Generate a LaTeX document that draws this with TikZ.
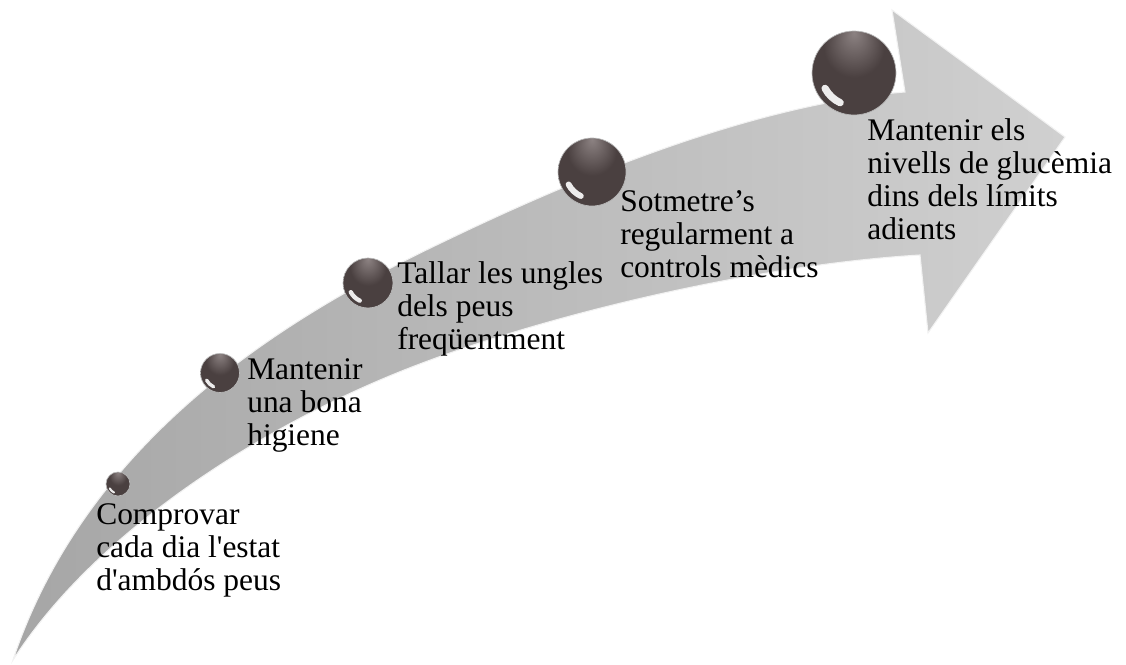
\documentclass[tikz,border=0pt]{standalone}
\usepackage{fontspec}
\setmainfont{Liberation Serif}
\usepackage{tikz}
\definecolor{arrowTail}{RGB}{166,166,166}
\definecolor{arrowHead}{RGB}{208,208,208}
\definecolor{beadBody}{RGB}{74,64,64}
\definecolor{beadSheen}{RGB}{140,130,130}
\definecolor{beadDeep}{RGB}{50,42,42}
\colorlet{beadRim}{gray!55}
\pgfdeclareradialshading{bead}{\pgfpoint{0bp}{24bp}}{%
  color(0bp)=(beadSheen); color(18bp)=(beadBody); color(42bp)=(beadBody); color(50bp)=(beadDeep)}
\tikzset{
  stepText/.style={anchor=base west, align=left, inner sep=0pt,
    font=\fontsize{23.6pt}{24.75pt}\selectfont},
  bead glint/.style={white, opacity=.9, line cap=round}
}

\begin{document}
\begin{tikzpicture}[x=0.75pt, y=0.75pt]
\useasboundingbox (0,0) rectangle (1126,664);
% the arrow
\shade[left color=arrowTail, right color=arrowHead, draw=white!90!gray, line width=0.8pt]
  (13,4) .. controls (90,234) and (300,354) .. (447,424)
  .. controls (547,472) and (740,559) .. (905,572)
  -- (892,654) -- (1065,527) -- (928,331) -- (920,409)
  .. controls (750,399) and (520,344) .. (380,284)
  .. controls (240,224) and (90,124) .. cycle;
% beads along the upper edge
\foreach[count=\i, evaluate=\r as \lw using {0.13*\r}] \x/\y/\r in {118/180/12, 220/291/19.5, 368/381/25, 592/492/34, 854/591/42} {
  \shade[shading=bead] (\x,\y) circle[radius=\r];
  \draw[beadRim, line width=.5pt] (\x,\y) circle[radius=\r];
  \draw[bead glint, line width=\lw] (\x,\y) ++(208:{0.78*\r}) arc[start angle=208, end angle=245, radius={0.78*\r}];
  \coordinate (bead\i) at (\x,\y);
}
% labels, placed at the baseline of their last line
\node[stepText] (check) at (96,74) {Comprovar\\cada dia l\textquotesingle estat\\d\textquotesingle ambdós peus};
\node[stepText] (hygiene) at (247,219) {Mantenir\\una bona\\higiene};
\node[stepText] (nails) at (397,314) {Tallar les ungles\\dels peus\\freqüentment};
\node[stepText] (checkup) at (620,386) {Sotmetre’s\\regularment a\\controls mèdics};
\node[stepText] (glucose) at (867,424) {Mantenir els\\nivells de glucèmia\\dins dels límits\\adients};
\end{tikzpicture}
\end{document}
